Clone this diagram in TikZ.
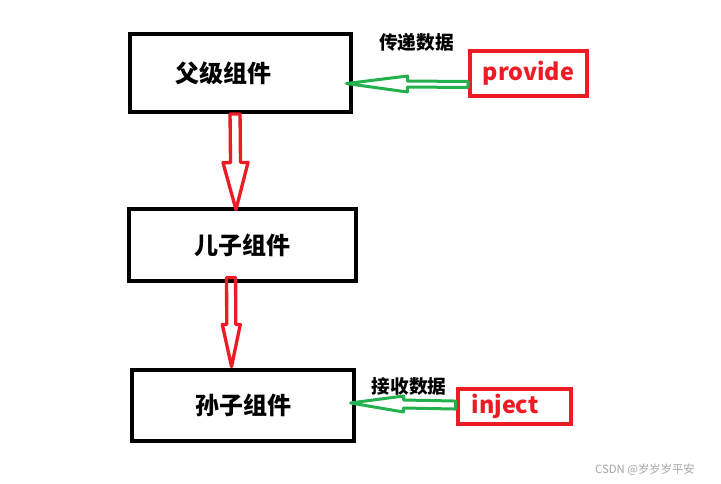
\documentclass[tikz,border=0pt]{standalone}
\usepackage{fontspec}
\setmainfont{Noto Sans CJK SC}
\usetikzlibrary{calc}
\definecolor{paintred}{RGB}{237,28,36}
\definecolor{paintgreen}{RGB}{34,177,76}
\tikzset{every picture/.style={line width=0.75pt}}
\tikzset{
  compbox/.style={draw=black, line width=3pt, inner sep=0pt, font=\fontsize{18}{20}\selectfont\bfseries},
  keybox/.style={draw=paintred, line width=3pt, inner sep=0pt, text=paintred, font=\fontsize{17.5}{20}\selectfont\bfseries},
  hollow arrow/.style n args={3}{line join=round, to path={
      ($(\tikztostart)!#1!90:(\tikztotarget)$)
      -- ($(\tikztotarget)!#3!(\tikztostart)!#1!90:(\tikztotarget)$)
      -- ($(\tikztotarget)!#3!(\tikztostart)!#2!90:(\tikztotarget)$)
      -- (\tikztotarget)
      -- ($(\tikztotarget)!#3!(\tikztostart)!#2!-90:(\tikztotarget)$)
      -- ($(\tikztotarget)!#3!(\tikztostart)!#1!-90:(\tikztotarget)$)
      -- ($(\tikztostart)!#1!-90:(\tikztotarget)$) -- cycle}},
  flowarrow/.style={draw=paintred, line width=2.5pt},
  dataarrow/.style={draw=paintgreen, line width=2.25pt},
  datalabel/.style={font=\fontsize{14}{16}\selectfont\bfseries}
}
\begin{document}
\begin{tikzpicture}[x=0.75pt,y=0.75pt,yscale=-1,xscale=1]
        \fill[white] (0,0) rectangle (721,484);
        \useasboundingbox (0,0) rectangle (721,484);
        \node[compbox, minimum width=165.75pt, minimum height=58.5pt, text width=97.75pt, inner xsep=34pt, align=left] (parent) at (240.5,73) {父级组件};
        \node[compbox, minimum width=170.25pt, minimum height=54pt] (child) at (242.5,245) {儿子组件};
        \node[compbox, minimum width=166.5pt, minimum height=53.25pt] (grandchild) at (243,405.5) {孙子组件};
        \node[keybox, minimum width=87.75pt, minimum height=33.75pt] (provide) at (528.5,73.5) {provide};
        \node[keybox, text width=64.25pt, inner xsep=10.5pt, align=left, minimum height=26.25pt] (inject) at (514.5,406.5) {inject};
        \node[datalabel] (sendlabel) at (416.5,42.5) {传递数据};
        \node[datalabel] (recvlabel) at (409,386.5) {接收数据};
        \node[font=\fontsize{8.5}{10}\selectfont, text=black!35] (mark) at (645,470) {CSDN @岁岁岁平安};
        \coordinate (flow1s) at ([xshift=-4.1pt]parent.south);
        \coordinate (flow1e) at ([xshift=-4.9pt,yshift=1.9pt]child.north);
        \coordinate (flow2s) at ([xshift=-8.6pt,yshift=-4.1pt]child.south);
        \coordinate (flow2e) at ([xshift=-8.6pt,yshift=-1.1pt]grandchild.north);
        \coordinate (data1s) at ([yshift=8.25pt]provide.west);
        \coordinate (data1e) at ([xshift=-4.9pt,yshift=7.9pt]parent.east);
        \coordinate (data2s) at ([yshift=-1.1pt]inject.west);
        \coordinate (data2e) at ([xshift=-4.1pt,yshift=-1.9pt]grandchild.east);
        \draw[flowarrow, hollow arrow={3.75pt}{9.4pt}{35.25pt}] (flow1s) to (flow1e);
        \draw[flowarrow, hollow arrow={3.4pt}{6.75pt}{31.5pt}] (flow2s) to (flow2e);
        \draw[dataarrow, hollow arrow={2.25pt}{6pt}{45.75pt}] (data1s) to (data1e);
        \draw[dataarrow, hollow arrow={3pt}{6pt}{39.75pt}] (data2s) to (data2e);
\end{tikzpicture}
\end{document}
